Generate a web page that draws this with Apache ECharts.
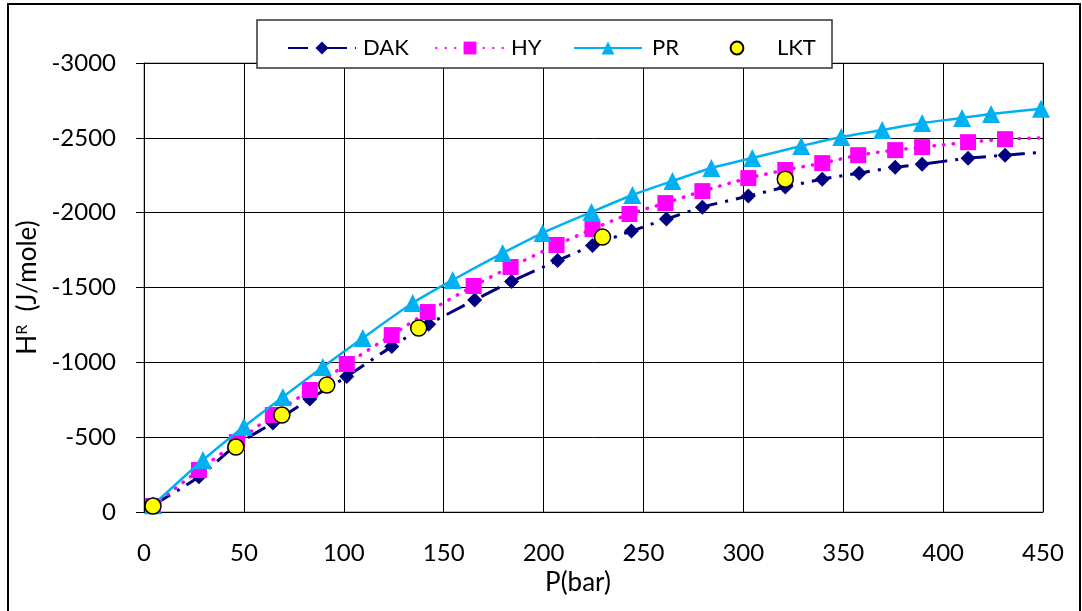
<!DOCTYPE html>
<html>
<head>
<meta charset="utf-8">
<script src="https://cdn.jsdelivr.net/npm/echarts@6/dist/echarts.min.js"></script>
<style>
html,body{margin:0;padding:0;background:#fff;}
#chart{width:1082px;height:611px;}
</style>
</head>
<body>
<div id="chart"></div>
<script>
// ---- data ----
const dakP = [4.5, 27.5, 46, 64.5, 83, 101.5, 124, 142.5, 165.5, 184, 207, 224.5, 244, 261.5, 279.5, 302.5, 321, 339.5, 358, 376, 389.5, 412.5, 431, 450];
const dakH = [-45, -235, -445, -595, -755, -905, -1105, -1255, -1416, -1540, -1680, -1780, -1877, -1957, -2037, -2111, -2171, -2224, -2264, -2304, -2324, -2364, -2384, -2404];
const hyP = [4.5, 27.5, 46.5, 64.5, 83, 101.5, 124, 142, 165, 183.5, 206.5, 224.5, 243, 261, 279.5, 302.5, 321, 339.5, 357.5, 376, 389.5, 412.5, 431, 450];
const hyH = [-40, -280, -467, -648, -815, -989, -1182, -1336, -1510, -1637, -1784, -1890, -1991, -2064, -2144, -2231, -2285, -2331, -2384, -2418, -2438, -2471, -2491, -2500];
const prP = [4.5, 29.5, 50, 69.5, 89.5, 109.5, 134.5, 154.5, 179.5, 199.5, 224, 244.5, 264.5, 284, 304.5, 329, 349, 369.5, 389.5, 409.5, 424, 449];
const prH = [-45, -347, -570, -768, -969, -1162, -1396, -1550, -1730, -1864, -2004, -2118, -2211, -2298, -2365, -2445, -2505, -2552, -2599, -2632, -2659, -2695];
const lktP = [4.5, 46, 69, 91.5, 137.5, 229.5, 321];
const lktH = [-40, -434, -648, -848, -1229, -1837, -2224];
const xTicks = [0, 50, 100, 150, 200, 250, 300, 350, 400, 450];
const yTicks = [-3000, -2500, -2000, -1500, -1000, -500, 0];
const seriesNames = ['DAK', 'HY', 'PR', 'LKT'];

function pairs(xs, ys, lastNoMarker) {
  return xs.map((x, i) => {
    const d = {value: [x, ys[i]]};
    if (lastNoMarker && i === xs.length - 1) d.symbolSize = 0;
    return d;
  });
}

const FONT = 'Lato, "Open Sans", sans-serif';
const chart = echarts.init(document.getElementById('chart'), null, {renderer: 'canvas'});

const legendBase = {
  orient: 'horizontal', top: 32, itemWidth: 68, itemHeight: 16, itemGap: 0,
  textStyle: {fontFamily: FONT, fontSize: 22, color: '#000', padding: [0, 0, 0, 2]},
  z: 30, selectedMode: false
};

const option = {
  backgroundColor: '#fff',
  animation: false,
  textStyle: {fontFamily: FONT},
  graphic: [
    {type: 'rect', shape: {x: 8, y: 4, width: 1072, height: 630}, style: {fill: 'none', stroke: '#000', lineWidth: 2}, z: 1, silent: true},
    {type: 'rect', shape: {x: 257, y: 20, width: 575, height: 48}, style: {fill: '#fff', stroke: '#333', lineWidth: 1.5}, z: 25, silent: true}
  ],
  legend: [
    Object.assign({}, legendBase, {data: [seriesNames[0]], left: 282}),
    Object.assign({}, legendBase, {data: [seriesNames[1]], left: 430}),
    Object.assign({}, legendBase, {data: [seriesNames[2]], left: 568,
      textStyle: {fontFamily: FONT, fontSize: 22, color: '#000', padding: [0, 0, 0, 5]}}),
    Object.assign({}, legendBase, {data: [seriesNames[3]], left: 705, itemWidth: 54,
      textStyle: {fontFamily: FONT, fontSize: 22, color: '#000', padding: [0, 0, 0, 8]}})
  ],
  grid: {left: 144, right: 39, top: 63, bottom: 99, show: true, borderColor: '#808080', borderWidth: 1},
  xAxis: {
    type: 'value', min: 0, max: 450, interval: 50,
    name: 'P(bar)', nameLocation: 'middle', nameGap: 58,
    nameTextStyle: {fontFamily: FONT, fontSize: 26, color: '#000', padding: [0, 31, 0, 0]},
    axisLine: {show: true, lineStyle: {color: '#000', width: 1}},
    axisTick: {show: false},
    axisLabel: {fontFamily: FONT, fontSize: 24, color: '#000', margin: 29,
      formatter: v => xTicks.includes(v) ? String(v) : ''},
    splitLine: {show: true, lineStyle: {color: '#000', width: 1}}
  },
  yAxis: {
    type: 'value', inverse: true, min: -3000, max: 0, interval: 500,
    name: '{a|H}{s|R}{a|  (J/mole)}', nameLocation: 'middle', nameGap: 90, nameRotate: 90,
    nameTextStyle: {
      rich: {
        a: {fontFamily: FONT, fontSize: 26, color: '#000'},
        s: {fontFamily: FONT, fontSize: 16, color: '#000', padding: [0, 0, 12, 0]}
      }
    },
    axisLine: {show: true, lineStyle: {color: '#000', width: 1}},
    axisTick: {show: true, inside: false, length: 8, lineStyle: {color: '#000'}},
    axisLabel: {fontFamily: FONT, fontSize: 24, color: '#000', margin: 28,
      formatter: v => yTicks.includes(v) ? String(v) : ''},
    splitLine: {show: true, lineStyle: {color: '#000', width: 1}}
  },
  series: [
    {
      name: 'DAK', type: 'line', data: pairs(dakP, dakH, true), smooth: 0.25,
      symbol: 'diamond', symbolSize: 15,
      itemStyle: {color: '#000080'},
      lineStyle: {color: '#000080', width: 3, type: [20, 8, 3, 8]},
      z: 3
    },
    {
      name: 'HY', type: 'line', data: pairs(hyP, hyH, true), smooth: 0.25,
      symbol: 'rect', symbolSize: 16,
      itemStyle: {color: '#FF00FF'},
      lineStyle: {color: '#FF00FF', width: 3.5, type: [0.5, 9], cap: 'round'},
      z: 4
    },
    {
      name: 'PR', type: 'line', data: pairs(prP, prH, false), smooth: 0.25,
      symbol: 'triangle', symbolSize: 18,
      itemStyle: {color: '#00B0F0'},
      lineStyle: {color: '#00B0F0', width: 2.5},
      z: 5
    },
    {
      name: 'LKT', type: 'line', data: pairs(lktP, lktH, false),
      symbol: 'circle', symbolSize: 16,
      itemStyle: {color: '#FFFF00', borderColor: '#000', borderWidth: 1.5},
      lineStyle: {width: 0, opacity: 0},
      z: 6
    }
  ]
};
chart.setOption(option);
</script>
</body>
</html>
